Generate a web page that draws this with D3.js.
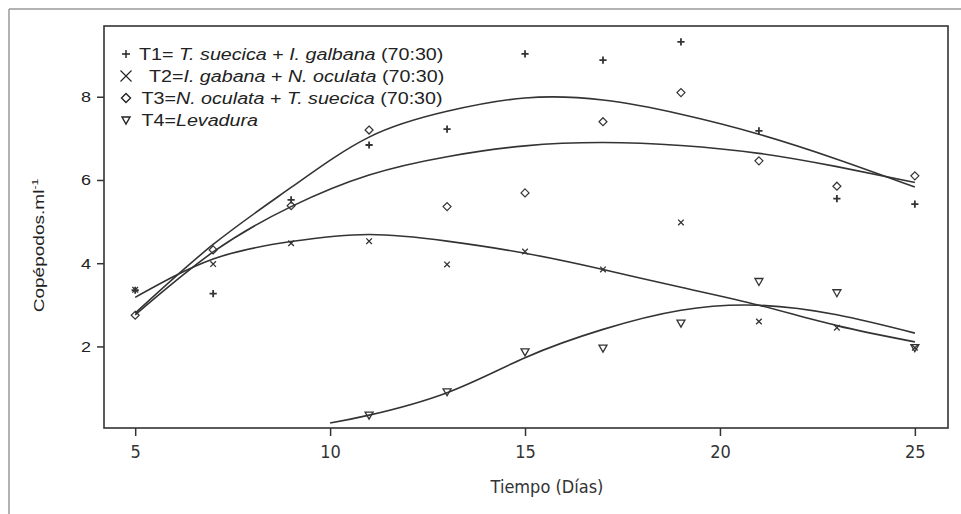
<!DOCTYPE html>
<html>
<head>
<meta charset="utf-8">
<script src="https://cdn.jsdelivr.net/npm/d3@7"></script>
<style>
  body { margin: 0; background: #fff; }
  svg { display: block; }
</style>
</head>
<body>
<svg width="961" height="514"></svg>
<script>
// days sampled
var days = [5, 7, 9, 11, 13, 15, 17, 19, 21, 23, 25];
var t1 = [3.35, 3.27, 5.52, 6.84, 7.22, 9.03, 8.88, 9.32, 7.18, 5.55, 5.42];
var t2 = [3.36, 3.98, 4.48, 4.53, 3.97, 4.28, 3.85, 4.98, 2.60, 2.45, 1.97];
var t3 = [2.75, 4.32, 5.38, 7.20, 5.36, 5.69, 7.40, 8.10, 6.46, 5.85, 6.10];
var t4Days = [11, 13, 15, 17, 19, 21, 23, 25];
var t4 = [0.35, 0.91, 1.87, 1.96, 2.56, 3.56, 3.29, 1.97];

// fitted curves
var fitDays = [5, 7, 9, 11, 13, 15, 17, 19, 21, 23, 25];
var t1Fit = [2.80, 4.45, 5.82, 7.03, 7.65, 7.97, 7.92, 7.58, 7.10, 6.50, 5.83];
var t2Fit = [3.18, 4.10, 4.52, 4.69, 4.53, 4.24, 3.85, 3.42, 2.99, 2.50, 2.11];
var t3Fit = [2.76, 4.27, 5.36, 6.12, 6.56, 6.82, 6.90, 6.83, 6.64, 6.32, 5.94];
var t4FitDays = [10, 11, 13, 15, 17, 19, 21, 23, 25];
var t4Fit = [0.16, 0.35, 0.89, 1.73, 2.41, 2.87, 2.99, 2.76, 2.32];

var xTicks = [5, 10, 15, 20, 25];
var yTicks = [2, 4, 6, 8];

var legendRows = [
  {sym: "plus", parts: [["T1= ", 0], ["T. suecica", 1], [" + ", 0], ["I. galbana", 1], [" (70:30)", 0]]},
  {sym: "x", parts: [["T2=", 0], ["I. gabana", 1], [" + ", 0], ["N. oculata", 1], [" (70:30)", 0]]},
  {sym: "diamond", parts: [["T3=", 0], ["N. oculata", 1], [" + ", 0], ["T. suecica", 1], [" (70:30)", 0]]},
  {sym: "tri", parts: [["T4=", 0], ["Levadura", 1]]}
];

var svg = d3.select("svg");
var ink = "#333";

var x = d3.scaleLinear().domain([4.2, 25.85]).range([104, 948]);
var y = d3.scaleLinear().domain([0.04, 9.7]).range([428, 26]);

// outer figure border
svg.append("line").attr("x1", 9).attr("y1", 9).attr("x2", 961).attr("y2", 9)
  .attr("stroke", "#999").attr("stroke-width", 1.5);
svg.append("line").attr("x1", 9).attr("y1", 9).attr("x2", 9).attr("y2", 514)
  .attr("stroke", "#999").attr("stroke-width", 1.5);

function symPath(type, s) {
  if (type == "plus") return "M" + (-s) + ",0H" + s + "M0," + (-s) + "V" + s;
  if (type == "x") return "M" + (-s) + "," + (-s) + "L" + s + "," + s + "M" + (-s) + "," + s + "L" + s + "," + (-s);
  if (type == "diamond") return "M0," + (-s) + "L" + s + ",0L0," + s + "L" + (-s) + ",0Z";
  return "M" + (-s) + "," + (-s * 0.75) + "L" + s + "," + (-s * 0.75) + "L0," + s + "Z";
}

// axes
var xAxis = d3.axisBottom(x).tickValues(xTicks).tickSize(8).tickPadding(9).tickFormat(d3.format("d"));
var gx = svg.append("g").attr("transform", "translate(0,428)").call(xAxis);
gx.select(".domain").remove();
gx.selectAll("line").attr("stroke", ink).attr("stroke-width", 1.5);
gx.selectAll("text").attr("fill", "#333")
  .style("font-family", "'DejaVu Sans Condensed', 'DejaVu Sans', sans-serif")
  .style("font-size", "18px");

var yAxis = d3.axisLeft(y).tickValues(yTicks).tickSize(7).tickFormat("");
var gy = svg.append("g").attr("transform", "translate(104,0)").call(yAxis);
gy.select(".domain").remove();
gy.selectAll("line").attr("stroke", ink).attr("stroke-width", 1.5);

svg.selectAll(".ylab").data(yTicks).enter().append("g")
  .attr("transform", function(d) { return "translate(91," + y(d) + ") scale(1.2,1)"; })
  .append("text")
  .attr("text-anchor", "end").attr("dy", "0.36em")
  .style("font-family", "'Liberation Sans', Arial, sans-serif").style("font-size", "15px")
  .attr("fill", "#222")
  .text(function(d) { return d; });

// frame
svg.append("rect").attr("x", 104).attr("y", 26).attr("width", 844).attr("height", 402)
  .attr("fill", "none").attr("stroke", ink).attr("stroke-width", 1.6);

// axis titles
svg.append("text").attr("x", 547).attr("y", 493).attr("text-anchor", "middle")
  .attr("fill", "#333")
  .style("font-family", "'DejaVu Sans Condensed', 'DejaVu Sans', sans-serif").style("font-size", "18px")
  .text("Tiempo (Días)");

var yt = svg.append("g").attr("transform", "translate(44,245.5) rotate(-90) scale(1.36,1)")
  .append("text").attr("text-anchor", "middle").attr("fill", "#222")
  .style("font-family", "'Liberation Sans', Arial, sans-serif").style("font-size", "14px");
yt.append("tspan").text("Copépodos.ml");
yt.append("tspan").attr("dy", -6).style("font-size", "9px").text("-1");

// fitted curves
var line = d3.line().x(function(d) { return x(d[0]); }).y(function(d) { return y(d[1]); })
  .curve(d3.curveNatural);
var fits = [
  d3.zip(fitDays, t1Fit), d3.zip(fitDays, t2Fit), d3.zip(fitDays, t3Fit), d3.zip(t4FitDays, t4Fit)
];
svg.selectAll(".fit").data(fits).enter().append("path")
  .attr("d", line).attr("fill", "none").attr("stroke", ink).attr("stroke-width", 1.6);

// points
var series = [
  {sym: "plus", s: 3.6, w: 1.8, pts: d3.zip(days, t1)},
  {sym: "x", s: 2.8, w: 1.3, pts: d3.zip(days, t2)},
  {sym: "diamond", s: 4, w: 1.2, pts: d3.zip(days, t3)},
  {sym: "tri", s: 4, w: 1.3, pts: d3.zip(t4Days, t4)}
];
series.forEach(function(sr) {
  svg.selectAll(null).data(sr.pts).enter().append("path")
    .attr("transform", function(d) { return "translate(" + x(d[0]) + "," + y(d[1]) + ")"; })
    .attr("d", symPath(sr.sym, sr.s))
    .attr("fill", "none").attr("stroke", ink).attr("stroke-width", sr.w);
});

// legend
var legSize = {plus: 4, x: 5.5, diamond: 4.5, tri: 4};
var legText = [139, 149, 141.5, 141.5];
legendRows.forEach(function(r, i) {
  var by = 59.5 + i * 22;
  svg.append("path").attr("transform", "translate(126," + (by - 5.5) + ")")
    .attr("d", symPath(r.sym, legSize[r.sym]))
    .attr("fill", "none").attr("stroke", "#222").attr("stroke-width", r.sym == "x" ? 1.1 : 1.4);
  var t = svg.append("g").attr("transform", "translate(" + legText[i] + "," + by + ") scale(1.23,1)")
    .append("text").attr("fill", "#222")
    .style("font-family", "'Liberation Sans', Arial, sans-serif").style("font-size", "16px");
  r.parts.forEach(function(p) {
    t.append("tspan").style("font-style", p[1] ? "italic" : "normal").text(p[0]);
  });
});
</script>
</body>
</html>
